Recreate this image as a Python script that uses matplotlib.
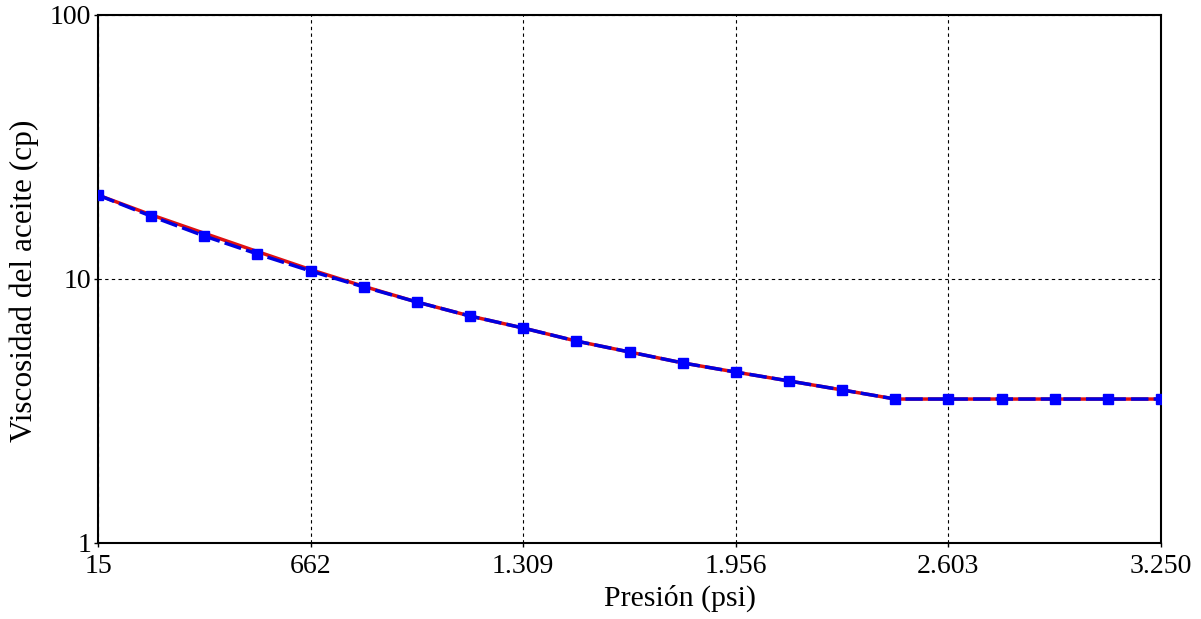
import matplotlib.pyplot as plt
import numpy as np

plt.rcParams['font.family'] = ['Liberation Serif', 'DejaVu Serif']

# Presión (psi) en cada punto calculado
presion = [15, 176.75, 338.5, 500.25, 662, 823.75, 985.5, 1147.25, 1309,
           1470.75, 1632.5, 1794.25, 1956, 2117.75, 2279.5, 2441.25, 2603,
           2764.75, 2926.5, 3088.25, 3250]

# Viscosidad del aceite (cp), dos correlaciones
visc_a = [20.8, 17.5, 14.9, 12.7, 10.85, 9.38, 8.18, 7.24, 6.52, 5.82, 5.29,
          4.81, 4.44, 4.11, 3.80, 3.51, 3.51, 3.51, 3.51, 3.51, 3.51]
visc_b = [20.8, 17.3, 14.55, 12.44, 10.72, 9.33, 8.18, 7.24, 6.52, 5.82, 5.29,
          4.81, 4.44, 4.11, 3.80, 3.51, 3.51, 3.51, 3.51, 3.51, 3.51]

xticks = [15, 662, 1309, 1956, 2603, 3250]
xticklabels = ['15', '662', '1.309', '1.956', '2.603', '3.250']
yticks = [1, 10, 100]
yticklabels = ['1', '10', '100']

W, H = 1201, 619
fig = plt.figure(figsize=(W / 100, H / 100), dpi=100)
ax = fig.add_axes([98 / W, 1 - 543 / H, 1063 / W, 528 / H])

ax.plot(presion, visc_a, color='#e01010', lw=2.5, zorder=3)
ax.plot(presion, visc_b, color='#0000e0', lw=2.5, ls=(0, (5, 1.5)),
        marker='s', ms=7, mfc='#0000ff', mec='#0000ff', zorder=4)

ax.set_yscale('log')
ax.set_xlim(15, 3250)
ax.set_ylim(1, 100)
ax.set_xticks(xticks)
ax.set_xticklabels(xticklabels)
ax.set_yticks(yticks)
ax.set_yticklabels(yticklabels)
ax.yaxis.set_minor_locator(plt.NullLocator())

ax.grid(True, color='black', ls=(0, (3, 3)), lw=0.8)
ax.tick_params(length=3, width=1, direction='out', labelsize=20)
ax.tick_params(axis='x', pad=5)
ax.tick_params(axis='y', pad=2)
for s in ax.spines.values():
    s.set_linewidth(1.5)

fig.text(680 / W, 1 - 598 / H, 'Presión (psi)', fontsize=21.5,
         ha='center', va='center')
fig.text(24 / W, 1 - 281 / H, 'Viscosidad del aceite (cp)', fontsize=22.5,
         rotation=90, ha='center', va='center')

fig.savefig('out.png', dpi=100)
